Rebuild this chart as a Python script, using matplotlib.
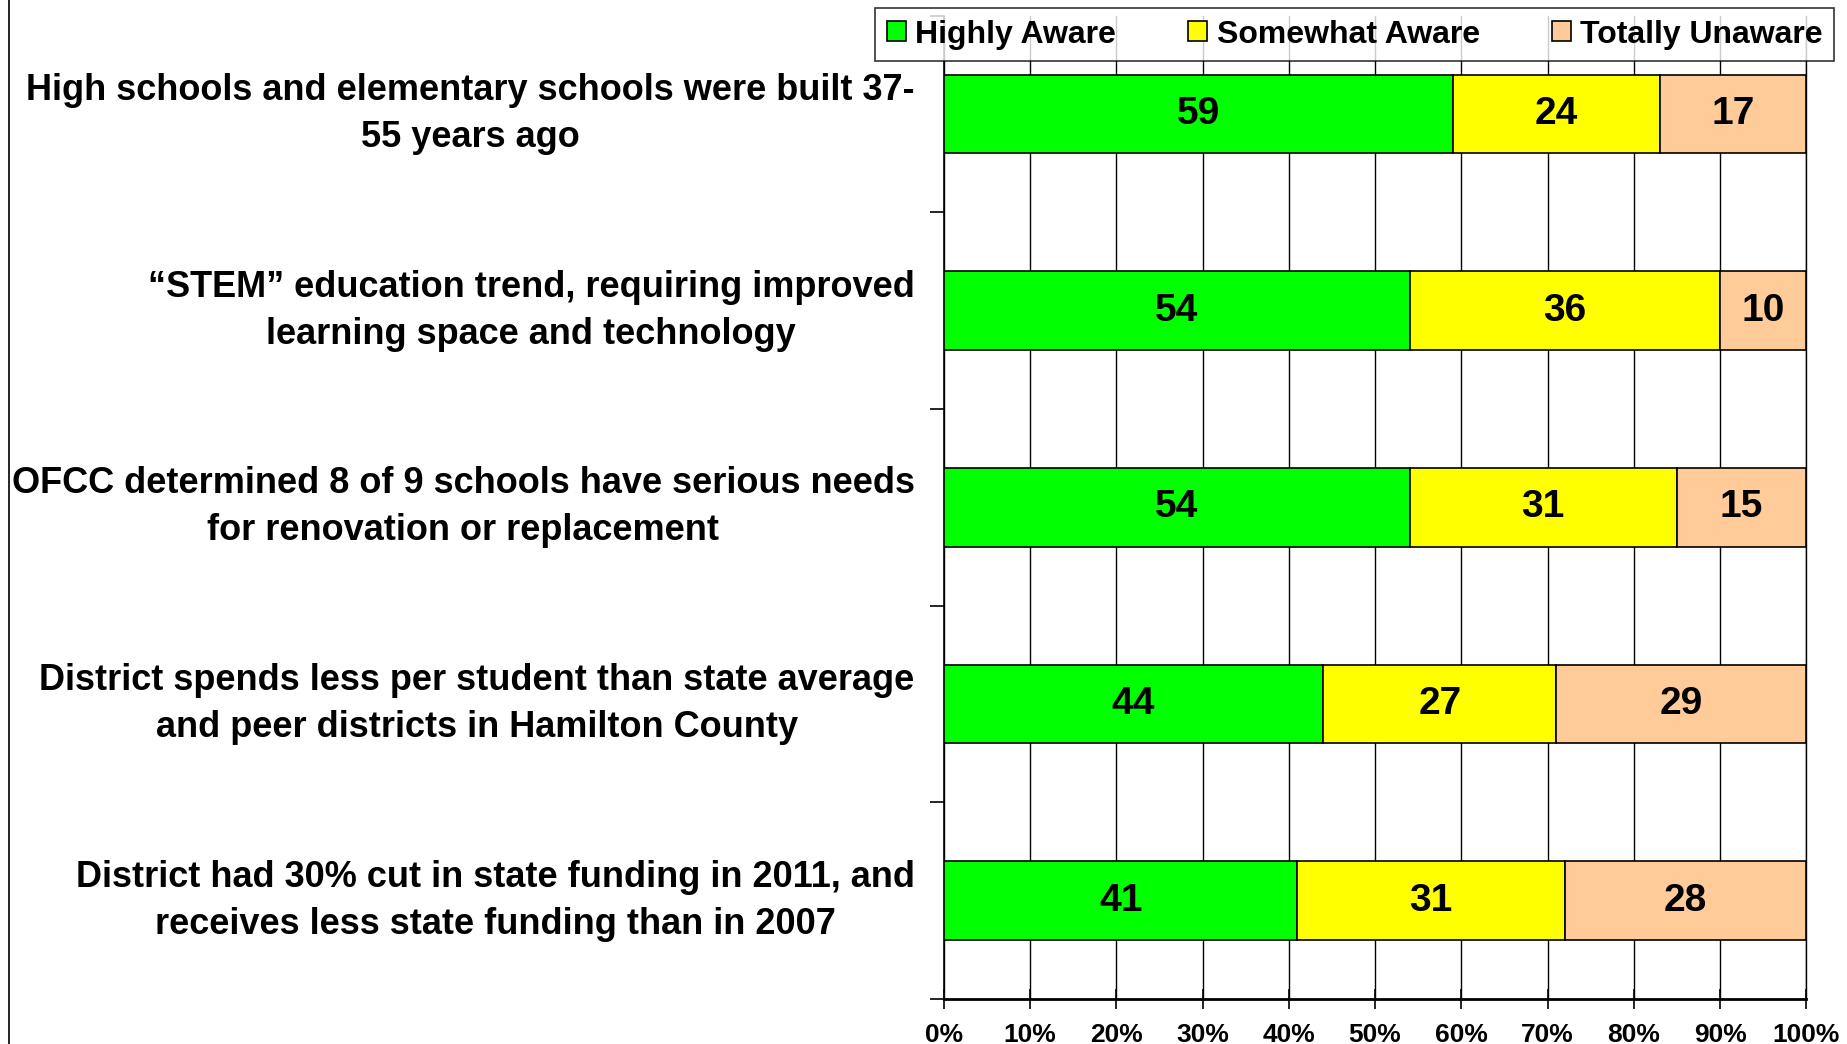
import matplotlib.pyplot as plt
from matplotlib.lines import Line2D
import numpy as np

plt.rcParams["font.family"] = ["Liberation Sans", "DejaVu Sans"]
plt.rcParams["font.weight"] = "bold"

categories = [
    "High schools and elementary schools were built 37-\n55 years ago",
    "\u201cSTEM\u201d education trend, requiring improved\nlearning space and technology",
    "OFCC determined 8 of 9 schools have serious needs\nfor renovation or replacement",
    "District spends less per student than state average\nand peer districts in Hamilton County",
    "District had 30% cut in state funding in 2011, and\nreceives less state funding than in 2007",
]
highly_aware = [59, 54, 54, 44, 41]
somewhat_aware = [24, 36, 31, 27, 31]
totally_unaware = [17, 10, 15, 29, 28]

series = [
    ("Highly Aware", highly_aware, "#00FF00"),
    ("Somewhat Aware", somewhat_aware, "#FFFF00"),
    ("Totally Unaware", totally_unaware, "#FFCC99"),
]

fig = plt.figure(figsize=(18.47, 10.44), dpi=100)
ax = fig.add_axes([0.511, 0.043, 0.467, 0.942])

y = np.arange(len(categories))
left = np.zeros(len(categories))
for name, vals, color in series:
    vals = np.array(vals, dtype=float)
    ax.barh(y, vals, left=left, height=0.4, color=color, edgecolor="black",
            linewidth=1.2, label=name, zorder=3)
    for yi, l, v in zip(y, left, vals):
        ax.text(l + v / 2, yi, f"{int(v)}", ha="center", va="center",
                fontsize=28, fontweight="bold", zorder=4)
    left += vals

ax.set_xlim(0, 100)
ax.set_ylim(len(categories) - 0.5, -0.5)
ax.set_xticks(np.arange(0, 101, 10))
ax.set_xticklabels([f"{t}%" for t in range(0, 101, 10)], fontsize=19, fontweight="bold")
ax.xaxis.grid(True, color="black", linewidth=1.0, zorder=0)
ax.tick_params(axis="x", direction="inout", length=14, width=1.2, pad=10)

ax.set_yticks(y)
ax.set_yticklabels(categories, fontsize=26, fontweight="bold", ha="right",
                   va="center", multialignment="center", linespacing=1.45)
ax.tick_params(axis="y", length=0, pad=21)
ax.set_yticks(np.arange(-0.5, len(categories), 1), minor=True)
ax.tick_params(axis="y", which="minor", length=10, width=1.2, direction="out")

ax.spines["top"].set_visible(False)
ax.spines["right"].set_linewidth(1.0)
ax.spines["left"].set_linewidth(1.2)
ax.spines["bottom"].set_linewidth(2.0)

leg = fig.legend(loc="upper left", bbox_to_anchor=(0.474, 0.945, 0.519, 0.047),
                 mode="expand", ncol=3, fontsize=23, frameon=True, fancybox=False,
                 edgecolor="black", handlelength=0.6, handleheight=0.6,
                 handletextpad=0.3, borderpad=0.35, borderaxespad=0.0)
leg.get_frame().set_linewidth(1.2)

fig.add_artist(Line2D([0.005, 0.005], [0.0, 1.0], color="black", linewidth=1.2,
                      transform=fig.transFigure))

fig.savefig("out.png", dpi=100)
